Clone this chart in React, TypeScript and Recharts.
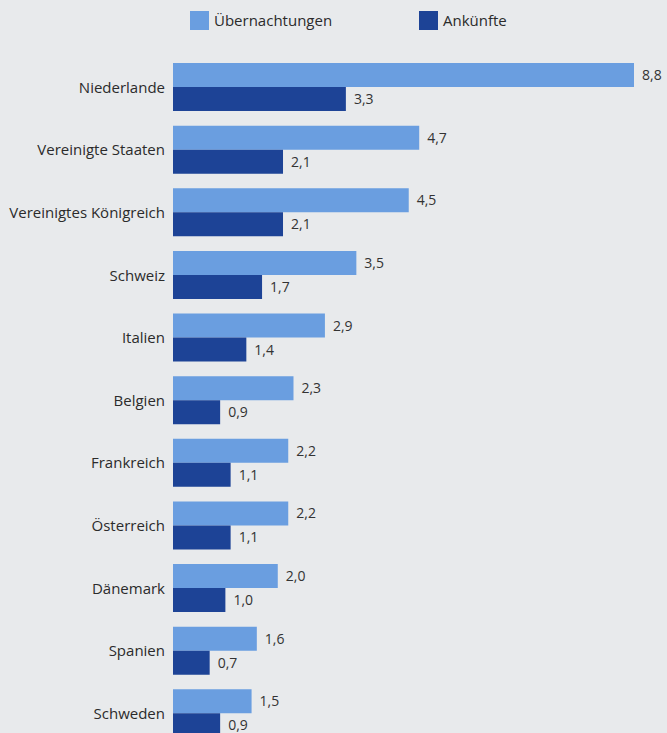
import React from 'react';
import { BarChart, Bar, XAxis, YAxis, LabelList } from 'recharts';

const countries = [
  'Niederlande',
  'Vereinigte Staaten',
  'Vereinigtes Königreich',
  'Schweiz',
  'Italien',
  'Belgien',
  'Frankreich',
  'Österreich',
  'Dänemark',
  'Spanien',
  'Schweden',
];
const uebernachtungen = [8.8, 4.7, 4.5, 3.5, 2.9, 2.3, 2.2, 2.2, 2.0, 1.6, 1.5];
const ankuenfte = [3.3, 2.1, 2.1, 1.7, 1.4, 0.9, 1.1, 1.1, 1.0, 0.7, 0.9];

const LIGHT = '#6a9ee0';
const DARK = '#1d4396';
const BG = '#e8eaec';
const FONT = '"Open Sans", sans-serif';

const data = countries.map((name, i) => ({
  name,
  uebernachtungen: uebernachtungen[i],
  ankuenfte: ankuenfte[i],
}));

const fmt = (v: unknown) => Number(v).toFixed(1).replace('.', ',');

function LegendItem({ color, label, left }: { color: string; label: string; left: number }) {
  return (
    <div style={{ position: 'absolute', top: 10, left, display: 'flex', alignItems: 'center' }}>
      <div style={{ width: 19, height: 19, background: color, marginRight: 5 }} />
      <span style={{ fontFamily: FONT, fontSize: 15, color: '#2b2b2b' }}>{label}</span>
    </div>
  );
}

export default function App() {
  return (
    <div style={{ position: 'fixed', left: 0, top: 0, width: 667, height: 733, overflow: 'hidden', background: BG }}>
      <LegendItem color={LIGHT} label="Übernachtungen" left={190} />
      <LegendItem color={DARK} label="Ankünfte" left={419} />
      <BarChart
        width={667}
        height={745}
        data={data}
        layout="vertical"
        margin={{ top: 56, right: 33, bottom: 0, left: 0 }}
        barGap={0}
        barCategoryGap={7}
      >
        <XAxis type="number" domain={[0, 8.8]} hide />
        <YAxis
          type="category"
          dataKey="name"
          width={173}
          axisLine={false}
          tickLine={false}
          tick={{ fontFamily: FONT, fontSize: 15, fill: '#2b2b2b' }}
        />
        <Bar dataKey="uebernachtungen" fill={LIGHT} barSize={24} isAnimationActive={false}>
          <LabelList
            dataKey="uebernachtungen"
            position="right"
            offset={8}
            formatter={fmt}
            style={{ fontFamily: FONT, fontSize: 14, fill: '#333' }}
          />
        </Bar>
        <Bar dataKey="ankuenfte" fill={DARK} barSize={24} isAnimationActive={false}>
          <LabelList
            dataKey="ankuenfte"
            position="right"
            offset={8}
            formatter={fmt}
            style={{ fontFamily: FONT, fontSize: 14, fill: '#333' }}
          />
        </Bar>
      </BarChart>
    </div>
  );
}
